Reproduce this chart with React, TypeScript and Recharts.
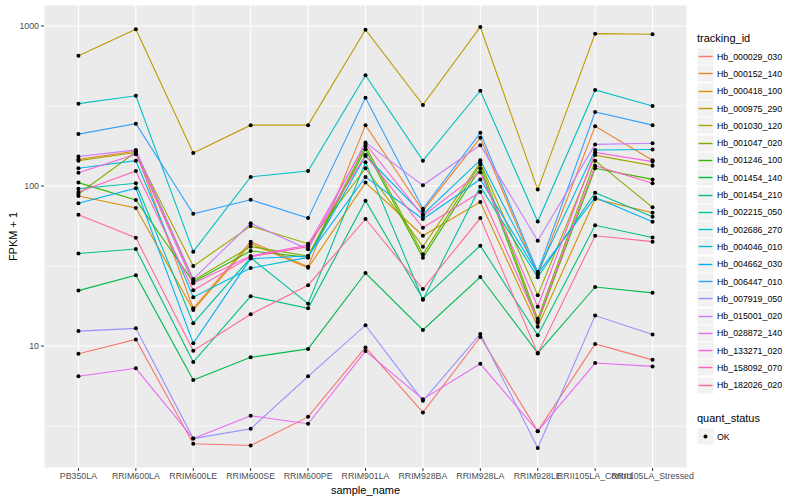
import React from "react";
import {
  LineChart,
  Line,
  XAxis,
  YAxis,
  CartesianGrid,
  ReferenceLine,
} from "recharts";

const SAMPLES = [
  "PB350LA",
  "RRIM600LA",
  "RRIM600LE",
  "RRIM600SE",
  "RRIM600PE",
  "RRIM901LA",
  "RRIM928BA",
  "RRIM928LA",
  "RRIM928LE",
  "RRII105LA_Control",
  "RRII105LA_Stressed",
];

// FPKM + 1, one value per sample
const hb_000029_030 = [8.96, 11.0, 2.45, 2.39, 3.61, 9.8, 3.85, 11.4, 2.94, 10.3, 8.2];
const hb_000152_140 = [147, 165, 17.2, 44.9, 31.3, 240, 70.1, 200, 27.8, 236, 145];
const hb_000418_100 = [86.6, 72.9, 16.8, 43.6, 30.8, 105, 48.9, 79.4, 13.2, 83, 68.1];
const hb_000975_290 = [652, 953, 161, 240, 240, 948, 321, 985, 95, 895, 887];
const hb_001030_120 = [144, 162, 31.6, 56.2, 43.6, 129, 41.8, 140, 20.8, 156, 134];
const hb_001047_020 = [89.1, 163, 25.7, 41.8, 36.5, 178, 37.4, 137, 14.8, 144, 73.6];
const hb_001246_100 = [105, 81.8, 25.1, 39.3, 35.8, 170, 35.6, 129, 14, 129, 110];
const hb_001454_140 = [22.2, 27.7, 6.13, 8.5, 9.6, 28.6, 12.6, 27, 9.04, 23.4, 21.5];
const hb_001454_210 = [37.9, 40.4, 7.94, 20.5, 17.2, 81, 19.7, 42.4, 11.7, 56.8, 47.7];
const hb_002215_050 = [96.2, 104, 13.9, 35.6, 18.4, 141, 19.5, 99, 26.9, 90.8, 64.3];
const hb_002686_270 = [327, 366, 38.9, 114, 124, 492, 144, 394, 60, 398, 316];
const hb_004046_010 = [129, 144, 20.2, 30.7, 35.8, 154, 66.5, 145, 29, 168, 169];
const hb_004662_030 = [78, 96.8, 10.4, 35.2, 36.5, 114, 62.2, 110, 28.4, 84.9, 59.8];
const hb_006447_010 = [211, 245, 67, 82, 63, 356, 72, 215, 29, 290, 240];
const hb_007919_050 = [12.4, 12.9, 2.64, 3.04, 6.47, 13.5, 4.55, 11.9, 2.31, 15.5, 11.8];
const hb_015001_020 = [153, 168, 26.2, 58.5, 40.2, 187, 101, 180, 45.5, 182, 185];
const hb_028872_140 = [6.47, 7.26, 2.64, 3.67, 3.27, 9.3, 4.66, 7.75, 2.94, 7.83, 7.46];
const hb_133271_020 = [121, 158, 24.7, 36.5, 42.8, 183, 64.9, 122, 17.6, 162, 142];
const hb_158092_070 = [91.7, 124, 22.3, 36.1, 41.8, 156, 54.8, 91.7, 14.4, 134, 104];
const hb_182026_020 = [66.2, 47.5, 9.35, 15.8, 24, 62.2, 22.7, 63, 9, 48.9, 44.9];

const SERIES = [
  { id: "Hb_000029_030", color: "#F8766D", values: hb_000029_030 },
  { id: "Hb_000152_140", color: "#EA8331", values: hb_000152_140 },
  { id: "Hb_000418_100", color: "#D89000", values: hb_000418_100 },
  { id: "Hb_000975_290", color: "#C09B00", values: hb_000975_290 },
  { id: "Hb_001030_120", color: "#A3A500", values: hb_001030_120 },
  { id: "Hb_001047_020", color: "#7CAE00", values: hb_001047_020 },
  { id: "Hb_001246_100", color: "#39B600", values: hb_001246_100 },
  { id: "Hb_001454_140", color: "#00BB4E", values: hb_001454_140 },
  { id: "Hb_001454_210", color: "#00BF7D", values: hb_001454_210 },
  { id: "Hb_002215_050", color: "#00C1A3", values: hb_002215_050 },
  { id: "Hb_002686_270", color: "#00BFC4", values: hb_002686_270 },
  { id: "Hb_004046_010", color: "#00BAE0", values: hb_004046_010 },
  { id: "Hb_004662_030", color: "#00B0F6", values: hb_004662_030 },
  { id: "Hb_006447_010", color: "#35A2FF", values: hb_006447_010 },
  { id: "Hb_007919_050", color: "#9590FF", values: hb_007919_050 },
  { id: "Hb_015001_020", color: "#C77CFF", values: hb_015001_020 },
  { id: "Hb_028872_140", color: "#E76BF3", values: hb_028872_140 },
  { id: "Hb_133271_020", color: "#FA62DB", values: hb_133271_020 },
  { id: "Hb_158092_070", color: "#FF62BC", values: hb_158092_070 },
  { id: "Hb_182026_020", color: "#FF6C91", values: hb_182026_020 },
];

const Y_TICKS = [10, 100, 1000];
const Y_MINOR = [3.162, 31.62, 316.2];

const data = SAMPLES.map((name, i) => {
  const row: Record<string, number | string> = { idx: i, name };
  SERIES.forEach((s) => {
    row[s.id] = s.values[i];
  });
  return row;
});

const FONT = "'Liberation Sans', Arial, Helvetica, sans-serif";

const Legend = () => (
  <div
    style={{
      position: "absolute",
      left: 697,
      top: 28,
      fontFamily: FONT,
      color: "#000",
    }}
  >
    <div style={{ fontSize: 11, height: 20, lineHeight: "20px" }}>tracking_id</div>
    {SERIES.map((s) => (
      <div key={s.id} style={{ display: "flex", alignItems: "center", height: 17.3 }}>
        <svg width={17} height={17} style={{ display: "block" }}>
          <rect x={0} y={0} width={17} height={17} fill="#F2F2F2" stroke="#fff" />
          <line x1={1.5} x2={15.5} y1={8.5} y2={8.5} stroke={s.color} strokeWidth={1.4} />
        </svg>
        <span style={{ fontSize: 8.8, marginLeft: 3 }}>{s.id}</span>
      </div>
    ))}
    <div style={{ fontSize: 11, height: 20, lineHeight: "20px", marginTop: 14 }}>quant_status</div>
    <div style={{ display: "flex", alignItems: "center", height: 17.3 }}>
      <svg width={17} height={17} style={{ display: "block" }}>
        <rect x={0} y={0} width={17} height={17} fill="#F2F2F2" stroke="#fff" />
        <circle cx={8.5} cy={8.5} r={2} fill="#000" />
      </svg>
      <span style={{ fontSize: 8.8, marginLeft: 3 }}>OK</span>
    </div>
  </div>
);

export default function App() {
  return (
    <div
      style={{
        position: "absolute",
        left: 0,
        top: 0,
        width: 800,
        height: 500,
        background: "#fff",
        fontFamily: FONT,
      }}
    >
      <LineChart
        width={800}
        height={500}
        data={data}
        margin={{ top: 5, right: 113, bottom: 0, left: 0 }}
      >
        <CartesianGrid fill="#EBEBEB" stroke="#fff" strokeWidth={1.1} />
        {Y_MINOR.map((v) => (
          <ReferenceLine key={v} y={v} stroke="#fff" strokeWidth={0.55} />
        ))}
        <XAxis
          dataKey="idx"
          type="number"
          domain={[-0.6, 10.6]}
          ticks={SAMPLES.map((_, i) => i)}
          interval={0}
          tickFormatter={(i: number) => SAMPLES[i]}
          height={32}
          axisLine={false}
          tickLine={{ stroke: "#333" }}
          tickSize={3}
          tick={{ fontSize: 8.8, fill: "#4D4D4D", fontFamily: FONT }}
          label={{
            value: "sample_name",
            position: "insideBottom",
            offset: 6,
            style: { fontSize: 11, fill: "#000", fontFamily: FONT },
          }}
        />
        <YAxis
          scale="log"
          domain={[1.73, 1352]}
          allowDataOverflow
          ticks={Y_TICKS}
          width={44}
          axisLine={false}
          tickLine={{ stroke: "#333" }}
          tickSize={3}
          tick={{ fontSize: 8.8, fill: "#4D4D4D", fontFamily: FONT }}
          label={{
            value: "FPKM + 1",
            angle: -90,
            position: "insideLeft",
            offset: 13,
            style: { fontSize: 11, fill: "#000", textAnchor: "middle", fontFamily: FONT },
          }}
        />
        {SERIES.map((s) => (
          <Line
            key={s.id}
            dataKey={s.id}
            stroke={s.color}
            strokeWidth={1.1}
            dot={false}
            activeDot={false}
            type="linear"
            isAnimationActive={false}
          />
        ))}
        {SERIES.map((s) => (
          <Line
            key={s.id + "_pt"}
            dataKey={s.id}
            stroke="none"
            dot={{ r: 2, fill: "#000", stroke: "none" }}
            activeDot={false}
            legendType="none"
            isAnimationActive={false}
          />
        ))}
      </LineChart>
      <Legend />
    </div>
  );
}
